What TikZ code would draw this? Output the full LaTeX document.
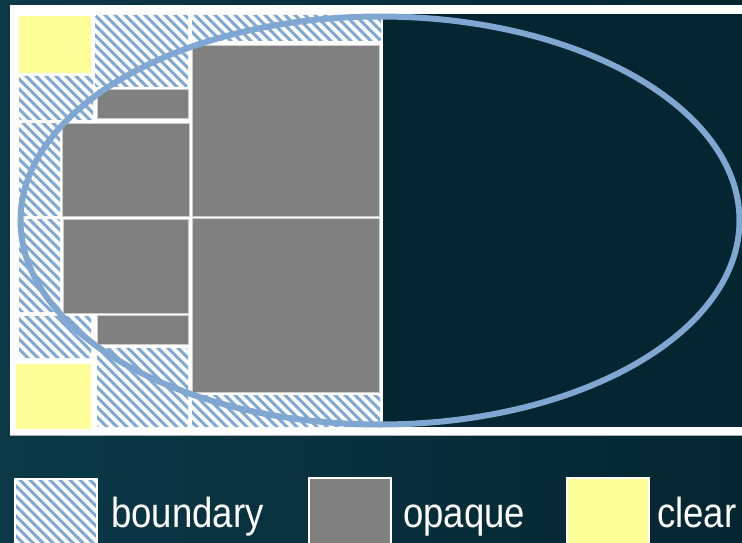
\documentclass[tikz,border=0pt]{standalone}
\usepackage{fontspec}
\setmainfont{Liberation Sans}
\newfontfamily\legendfont[FakeStretch=0.87]{Liberation Sans}
\definecolor{bgA}{RGB}{12,56,72}
\definecolor{bgB}{RGB}{4,38,48}
\definecolor{panel}{RGB}{3,38,48}
\definecolor{hatchblue}{RGB}{128,168,210}
\definecolor{clearyellow}{RGB}{255,255,153}
\definecolor{opaquegray}{RGB}{128,128,128}
\definecolor{ellblue}{RGB}{127,167,210}
\tikzset{
  hatchline/.style={draw=hatchblue, line width=3.1pt},
  opaquecell/.style={fill=opaquegray, draw=gray!40, line width=0.8pt},
  clearcell/.style={fill=clearyellow},
  swatchframe/.style={draw=white, line width=2pt},
  legendtext/.style={text=white, font=\legendfont\fontsize{42}{42}\selectfont, anchor=base west, inner sep=0pt},
  ellipseline/.style={draw=ellblue, line width=6pt},
}
% boundary cell: white box with "\" stripes, horizontal period 10
\newcommand\hatchbox[5][1.5pt]{%
  \pgfmathtruncatemacro\hkA{floor((#2-#5)/10)-1}%
  \pgfmathtruncatemacro\hkB{ceil((#4-#3)/10)+1}%
  \fill[white, rounded corners=#1] (#2,#3) rectangle (#4,#5);
  \begin{scope}
    \clip[rounded corners=#1] (#2,#3) rectangle (#4,#5);
    \foreach \k in {\hkA,...,\hkB}
      \draw[hatchline] (\k*10+#3-3, #3-3) -- (\k*10+#5+3, #5+3);
  \end{scope}%
}
\begin{document}
\begin{tikzpicture}[x=1pt,y=-1pt]
\useasboundingbox (0,0) rectangle (742,543);
\clip (0,0) rectangle (742,543);
% background
\shade[left color=bgA, right color=bgB] (0,0) rectangle (742,543);
% frame and panels
\fill[white] (10,5) rectangle (760,435);
\draw[gray!60, line width=0.6pt] (10,435) -- (760,435);
\fill[panel] (383,14) rectangle (760,427);
% quadtree cells
\path[clearcell] (19,16) rectangle (91,73);
\hatchbox{95}{15}{188}{87}
\hatchbox{19}{76}{93}{120}
\path[opaquecell] (97,89) rectangle (188,118);
\hatchbox{192}{15}{381}{41}
\path[opaquecell] (192,45) rectangle (379,216);
\hatchbox{19}{123}{60}{216}
\path[opaquecell] (62,123) rectangle (189,216);
\hatchbox{19}{219}{60}{312}
\path[opaquecell] (63,219) rectangle (188,313);
\path[opaquecell] (192,218) rectangle (379,392);
\hatchbox{192}{395}{380}{427}
\hatchbox{19}{316}{91}{358}
\path[opaquecell] (97,315) rectangle (188,344);
\path[clearcell] (16,364) rectangle (91,429);
\hatchbox{97}{348}{188}{427}
% ellipse
\draw[ellipseline] (380,220.5) ellipse [x radius=359.5, y radius=204];
% legend
\hatchbox[0pt]{15}{479}{97}{560}
\path[swatchframe] (15,479) rectangle (97,560);
\node[legendtext] (lboundary) at (111,527) {boundary};
\path[fill=opaquegray] (309,478) rectangle (391,560);
\path[swatchframe] (309,478) rectangle (391,560);
\node[legendtext] (lopaque) at (403,527) {opaque};
\path[clearcell] (567,478) rectangle (649,560);
\path[swatchframe] (567,478) rectangle (649,560);
\node[legendtext] (lclear) at (657,527) {clear};
\end{tikzpicture}
\end{document}
